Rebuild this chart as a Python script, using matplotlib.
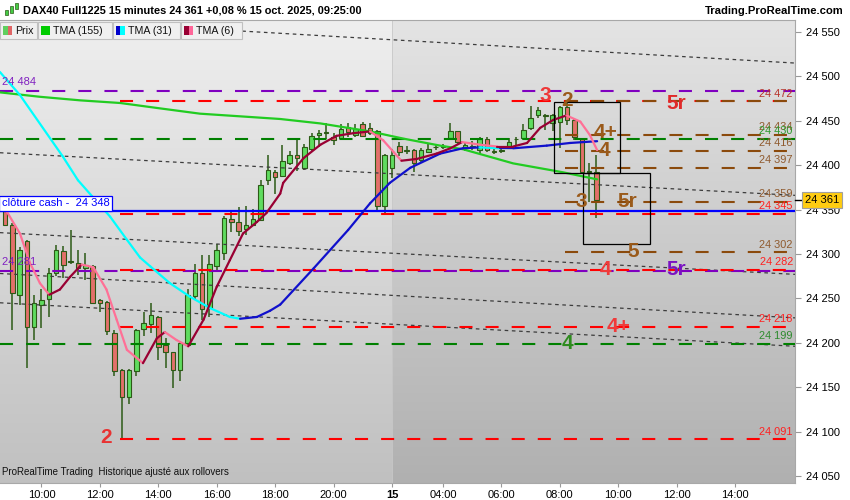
import numpy as np
import matplotlib.pyplot as plt
import matplotlib.colors as mcolors
import matplotlib.transforms as mtransforms
from matplotlib.patches import Rectangle
from matplotlib.collections import LineCollection

plt.rcParams['font.family'] = ['Liberation Sans', 'DejaVu Sans']
plt.rcParams['lines.scale_dashes'] = False

# 15 minute candles, DAX40 Full1225 (14 oct from 08:45, 15 oct from 02:15)
opens = [24348, 24333, 24254, 24315, 24218, 24243, 24249, 24279, 24303, 24291,
         24290, 24284, 24286, 24248, 24246, 24211, 24169, 24139, 24168, 24215,
         24221, 24229, 24197, 24189, 24169, 24197, 24253, 24278, 24239, 24286,
         24301, 24339, 24336, 24328, 24333, 24338, 24383, 24392, 24388, 24402,
         24412, 24397, 24418, 24434, 24436, 24432, 24431, 24443, 24434, 24446,
         24442, 24438, 24354, 24397, 24422, 24417, 24417, 24406, 24415, 24420,
         24421, 24431, 24438, 24419, 24421, 24417, 24430, 24416, 24416, 24419,
         24429, 24431, 24442, 24457, 24456, 24448, 24449, 24465, 24451, 24430,
         24392, 24392]
highs = [24360, 24335, 24308, 24316, 24254, 24260, 24284, 24310, 24309, 24327,
         24305, 24301, 24288, 24249, 24247, 24214, 24170, 24170, 24216, 24235,
         24245, 24230, 24205, 24190, 24202, 24260, 24289, 24299, 24299, 24311,
         24343, 24350, 24353, 24354, 24351, 24383, 24411, 24395, 24423, 24416,
         24431, 24424, 24436, 24440, 24447, 24436, 24446, 24448, 24446, 24449,
         24447, 24440, 24413, 24418, 24426, 24422, 24418, 24419, 24425, 24424,
         24424, 24448, 24439, 24425, 24427, 24432, 24432, 24420, 24419, 24431,
         24432, 24446, 24467, 24465, 24458, 24458, 24467, 24472, 24453, 24431,
         24402, 24412]
lows = [24332, 24214, 24243, 24172, 24203, 24217, 24229, 24275, 24273, 24289,
        24276, 24271, 24244, 24235, 24209, 24163, 24091, 24131, 24162, 24208,
        24211, 24181, 24172, 24149, 24157, 24195, 24248, 24226, 24229, 24282,
        24293, 24325, 24320, 24321, 24332, 24337, 24378, 24368, 24387, 24400,
        24393, 24394, 24416, 24421, 24430, 24423, 24429, 24432, 24432, 24432,
        24434, 24347, 24345, 24386, 24410, 24413, 24392, 24404, 24414, 24417,
        24418, 24430, 24423, 24416, 24417, 24413, 24415, 24413, 24414, 24418,
        24423, 24429, 24440, 24453, 24440, 24438, 24419, 24445, 24428, 24391,
        24358, 24341]
closes = [24333, 24256, 24304, 24218, 24245, 24248, 24278, 24304, 24288, 24292,
          24284, 24288, 24245, 24245, 24213, 24168, 24139, 24169, 24214, 24222,
          24231, 24195, 24189, 24169, 24200, 24254, 24279, 24238, 24289, 24304,
          24340, 24336, 24326, 24333, 24339, 24378, 24394, 24387, 24405, 24412,
          24408, 24421, 24433, 24436, 24437, 24428, 24441, 24437, 24441, 24433,
          24436, 24354, 24412, 24412, 24415, 24416, 24402, 24417, 24418, 24421,
          24422, 24439, 24426, 24423, 24422, 24430, 24417, 24415, 24417, 24426,
          24430, 24440, 24453, 24462, 24455, 24456, 24465, 24451, 24432, 24392,
          24393, 24361]

# sessions: (first candle index, first candle time)
sessions = [(0, '08:45'), (53, '02:15')]
day14_ticks = ['10:00', '12:00', '14:00', '16:00', '18:00', '20:00']
day15_ticks = ['04:00', '06:00', '08:00', '10:00', '12:00', '14:00']

# indicator values (candle index, price)
tma155_x = [-0.7, 4.8, 10.3, 15.8, 21.2, 26.7, 32.2, 37.7, 43.2, 50.0, 54.5, 59.6, 62.7, 69.6, 76.4, 81.1]
tma155_y = [24482, 24477, 24473, 24470, 24464, 24458, 24455, 24452, 24447, 24438, 24430, 24422, 24418, 24402, 24392, 24384]

tma31_x = [-0.7, 2.05, 7.9, 10.0, 14.4, 16.7, 18.5, 19.9, 22.6, 25.3, 28.1, 30.8, 32.2, 34.5, 36.3, 37.7,
           42.3, 47.0, 50.0, 52.7, 55.5, 59.6, 62.7, 65.0, 67.8, 69.6, 74.2, 77.4, 81.1]
tma31_y = [24505, 24479, 24410, 24383, 24342, 24316, 24296, 24286, 24267, 24252, 24239, 24229, 24227, 24229, 24236, 24243,
           24284, 24327, 24357, 24380, 24397, 24413, 24419, 24420, 24419, 24419, 24422, 24425, 24427]

tma6_x = [0.23, 2.05, 3.42, 4.79, 6.07, 7.53, 8.9, 10.5, 12.1, 13.9, 15.3, 16.7, 18.9, 20.8, 21.9, 23.5,
          25.1, 27.2, 29.0, 30.8, 32.6, 34.5, 35.8, 37.7, 38.1, 40.9, 43.2, 45.4, 47.7, 50.0, 51.8, 53.2,
          54.3, 56.4, 59.1, 61.0, 62.6, 65.1, 67.4, 69.6, 71.5, 73.3, 75.1, 76.9, 78.8, 80.1, 81.1]
tma6_y = [24348, 24323, 24290, 24267, 24254, 24260, 24274, 24288, 24285, 24260, 24226, 24192, 24177, 24205, 24212, 24203,
          24196, 24226, 24263, 24293, 24323, 24336, 24346, 24368, 24380, 24408, 24423, 24433, 24436, 24438, 24428, 24415,
          24405, 24407, 24413, 24419, 24426, 24423, 24421, 24421, 24425, 24442, 24451, 24456, 24449, 24434, 24417]

# horizontal levels
cash_level = 24348
purple_levels = [24484, 24281]
green_levels = [24430, 24199]
red_levels = [24472, 24345, 24282, 24218, 24091]
red_start = 15.8
brown_levels = [24472, 24434, 24416, 24397, 24359, 24302]
brown_start = 76.7

# labels at the right edge: (value, colour)
right_labels = [(24472, '#b8322a'), (24434, '#8f5a2e'), (24430, '#2e9a2e'), (24416, '#8f5a2e'),
                (24397, '#8f5a2e'), (24359, '#8f5a2e'), (24345, '#ff2020'), (24302, '#8f5a2e'),
                (24282, '#ff2020'), (24218, '#ff2020'), (24199, '#2e8b2e'), (24091, '#ff2020')]

# dotted trend lines: start index, start price, end index, end price
trend_x0 = [32.5, -0.7, -0.7, -0.7, -0.7]
trend_y0 = [24551, 24414, 24324, 24278, 24245]
trend_x1 = [108.2, 108.2, 108.2, 108.2, 108.2]
trend_y1 = [24515, 24366, 24277, 24228, 24196]

# wave labels: text, index, price, colour
wave_text = ['2', '3', '2', '4+', '4', '3', '5r', '5', '5r', '4', '5r', '4+', '4']
wave_x = [13.8, 74.0, 77.0, 82.2, 82.05, 79.0, 85.2, 86.0, 92.0, 82.2, 92.0, 84.1, 77.0]
wave_y = [24093, 24478, 24473, 24437, 24416, 24359, 24359, 24303, 24470, 24282, 24282, 24218, 24199]
wave_col = ['#e83232', '#ee3838', '#9a5a1a', '#9a5a1a', '#9a5a1a', '#9a5a1a', '#9a5a1a', '#9a5a1a',
            '#e02a2a', '#f03a3a', '#7a12c2', '#f03a3a', '#2e8b1e']

# boxes: left index, right index, low, high
box_x0 = [75.2, 79.2]
box_x1 = [84.3, 88.3]
box_lo = [24391, 24311]
box_hi = [24471, 24391]

last_price = 24361


def fmt(v):
    return f'{v:,}'.replace(',', ' ')


def tick_index(session, t):
    i0, t0 = session
    h0, m0 = map(int, t0.split(':'))
    h, m = map(int, t.split(':'))
    return i0 + ((h * 60 + m) - (h0 * 60 + m0)) / 15


def two_tone(ax, xs, ys, up_color, down_color, lw):
    pts = np.column_stack([xs, ys])
    segs = np.stack([pts[:-1], pts[1:]], axis=1)
    cols = [up_color if b >= a else down_color for a, b in zip(ys[:-1], ys[1:])]
    ax.add_collection(LineCollection(segs, colors=cols, linewidths=lw, zorder=6, capstyle='round'))


fig = plt.figure(figsize=(8.5, 5), dpi=100)
fig.patch.set_facecolor('white')
ax = fig.add_axes([0, 17 / 500, 795 / 850, 463 / 500])
x_lo, x_hi = -0.68, 108.2
y_lo, y_hi = 24042, 24563.5

# background shading, lighter for the previous session
def shade(x0, x1, top, bottom):
    c = np.linspace(mcolors.to_rgb(top), mcolors.to_rgb(bottom), 256)[:, None, :]
    ax.imshow(c, extent=[x0, x1, y_lo, y_hi], aspect='auto', origin='upper', zorder=0)

split = sessions[1][0]
shade(x_lo, split, '#efefef', '#c0c0c0')
shade(split, x_hi, '#e4e4e4', '#b0b0b0')
ax.axvline(split, color='#c8c8c8', lw=0.6, zorder=0.5)

# candles
o = np.array(opens)
c = np.array(closes)
idx = np.arange(len(c))
wick = '#2c5a16'
ax.vlines(idx, lows, highs, color=wick, lw=1.1, zorder=2)
body = np.maximum(np.abs(c - o), 0.8)
ax.bar(idx, body, bottom=np.minimum(o, c), width=0.62,
       color=np.where(c >= o, '#5fdc5f', '#e3706a'), edgecolor=wick, linewidth=0.8, zorder=3)

# trend lines
for xa, ya, xb, yb in zip(trend_x0, trend_y0, trend_x1, trend_y1):
    ax.plot([xa, xb], [ya, yb], color='#3c3c3c', lw=0.9, dashes=(2.6, 2.6), zorder=4)

dash = (9.4, 9.4)
lw_lvl = 1.5
for v in purple_levels:
    ax.plot([x_lo, x_hi], [v, v], color='#7f00c0', lw=lw_lvl, dashes=dash, zorder=4)
for v in green_levels:
    ax.plot([x_lo, x_hi], [v, v], color='#008000', lw=lw_lvl, dashes=dash, zorder=4)
for v in red_levels:
    ax.plot([red_start, x_hi], [v, v], color='#ff0000', lw=lw_lvl, dashes=dash, zorder=4)
for v in brown_levels:
    ax.plot([brown_start, x_hi], [v, v], color='#8b4a0c', lw=lw_lvl, dashes=dash, zorder=4.5)
ax.plot([x_lo, x_hi], [cash_level, cash_level], color='#0000ff', lw=1.6, zorder=5)

# moving averages
ax.plot(tma155_x, tma155_y, color='#22cc22', lw=1.6, zorder=6, solid_capstyle='round')
two_tone(ax, tma31_x, tma31_y, '#1010cc', '#00ffff', 1.6)
two_tone(ax, tma6_x, tma6_y, '#990033', '#ff7096', 1.6)

# boxes
for xa, xb, lo, hi in zip(box_x0, box_x1, box_lo, box_hi):
    ax.add_patch(Rectangle((xa, lo), xb - xa, hi - lo, fill=False, edgecolor='black', lw=0.9, zorder=7))

# wave labels
for t, xw, yw, col in zip(wave_text, wave_x, wave_y, wave_col):
    ax.text(xw, yw, t, color=col, fontsize=15, fontweight='bold', ha='center', va='center', zorder=8)

# value labels at right edge
for v, col in right_labels:
    ax.text(107.9, v + 8.5, fmt(v), color=col, fontsize=7.9, ha='right', va='center', zorder=8)
for v in purple_levels:
    ax.text(-0.45, v + 9.5, fmt(v), color='#8020c0', fontsize=8, ha='left', va='center', zorder=8)

ax.text(-0.45, cash_level + 9, 'clôture cash -  ' + fmt(cash_level), color='#0000ff', fontsize=8,
        ha='left', va='center', zorder=9,
        bbox=dict(boxstyle='square,pad=0.25', facecolor='white', edgecolor='#0000ff', lw=0.9))

ax.text(0.003, 0.012, 'ProRealTime Trading  Historique ajusté aux rollovers', transform=ax.transAxes,
        fontsize=7, color='#111111', ha='left', va='bottom', zorder=9)

ax.set_xlim(x_lo, x_hi)
ax.set_ylim(y_lo, y_hi)

# axes and ticks
xt = [tick_index(sessions[0], t) for t in day14_ticks] + [split] + \
     [tick_index(sessions[1], t) for t in day15_ticks]
xl = day14_ticks + ['15'] + day15_ticks
ax.set_xticks(xt)
ax.set_xticklabels(xl)
for lab in ax.get_xticklabels():
    if lab.get_text() == '15':
        lab.set_fontweight('bold')
        lab.set_fontsize(9)
ax.tick_params(axis='x', length=3, color='#999999', labelsize=8, pad=2)

ax.yaxis.tick_right()
yt = np.arange(24050, 24551, 50)
ax.set_yticks(yt)
ax.set_yticklabels([fmt(v) for v in yt])
ax.tick_params(axis='y', length=4, color='#999999', labelsize=8, pad=4)
ax.spines['left'].set_visible(False)
for s in ['top', 'bottom', 'right']:
    ax.spines[s].set_color('#a8a8a8')
    ax.spines[s].set_linewidth(0.8)

trans = mtransforms.blended_transform_factory(ax.transAxes, ax.transData)
ax.plot([1.0, 1.009], [last_price, last_price], color='black', lw=1, transform=trans, clip_on=False, zorder=9)
ax.text(1.012, last_price, fmt(last_price), transform=trans, fontsize=8, ha='left', va='center',
        bbox=dict(boxstyle='square,pad=0.25', facecolor='#ffcc11', edgecolor='#a0a0a0', lw=0.8), zorder=10)

# title bar
W, H = 850, 500
fig.text(23 / W, 1 - 10.5 / H, 'DAX40 Full1225 15 minutes 24 361 +0,08 % 15 oct. 2025, 09:25:00',
         fontsize=7.9, fontweight='bold', ha='left', va='center')
fig.text(844 / W, 1 - 10.5 / H, 'Trading.ProRealTime.com', fontsize=8.1, fontweight='bold',
         ha='right', va='center')
for bx, by, bh in [(5, 10, 5), (10, 6, 7), (15, 3, 6)]:
    fig.patches.append(Rectangle((bx / W, 1 - (by + bh) / H), 3 / W, bh / H, facecolor='#44cc44',
                                 edgecolor='#2c5a16', lw=0.5, transform=fig.transFigure, figure=fig))

# legend strip
legend_boxes = [(0, 37, 'Prix', ['#5fcf5f', '#e06666']),
                (38, 112, 'TMA (155)', ['#00cc00']),
                (113, 180, 'TMA (31)', ['#0000cc', '#00ffff']),
                (181, 242, 'TMA (6)', ['#990033', '#ff6699'])]
for x0, x1, name, cols in legend_boxes:
    fig.patches.append(Rectangle((x0 / W, 1 - 39 / H), (x1 - x0) / W, 17 / H, facecolor='#f0f0f0',
                                 edgecolor='#c0c0c0', lw=0.8, transform=fig.transFigure, figure=fig))
    sw = 9 / len(cols)
    for k, col in enumerate(cols):
        fig.patches.append(Rectangle(((x0 + 3 + k * sw) / W, 1 - 35 / H), sw / W, 9 / H, facecolor=col,
                                     edgecolor='none', transform=fig.transFigure, figure=fig))
    fig.text((x0 + 15) / W, 1 - 30.5 / H, name, fontsize=7.7, ha='left', va='center', color='#111111')

fig.savefig('out.png', dpi=100)
